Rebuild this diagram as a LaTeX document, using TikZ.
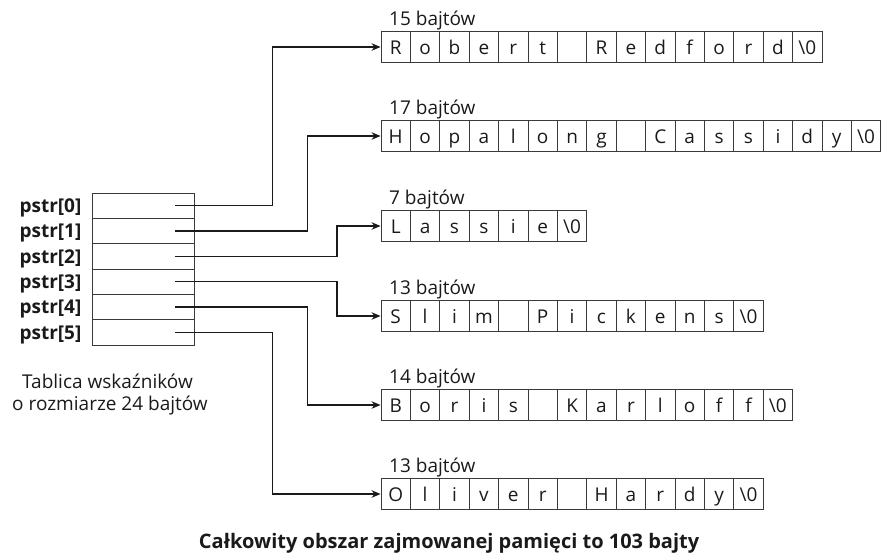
\documentclass[tikz,border=0pt]{standalone}
\usepackage{fontspec}
\setmainfont{Open Sans}
\usetikzlibrary{arrows.meta}
\definecolor{ink}{HTML}{1A1A1A}
\definecolor{edge}{HTML}{3A3A3A}
\tikzset{
  cell/.style={draw=edge, line width=0.9pt, minimum width=29.4pt, minimum height=31.7pt,
    inner sep=0pt, text height=16pt, text depth=2pt, font=\fontsize{19}{22}\selectfont, text=ink},
  ptrcell/.style={draw=edge, line width=0.9pt, minimum width=102pt, minimum height=25.33pt, inner sep=0pt},
  lbl/.style={inner sep=0pt, font=\fontsize{19}{22}\selectfont, text=ink},
  plbl/.style={inner sep=0pt, font=\fontsize{19}{22}\selectfont\bfseries, text=ink, anchor=base east},
  conn/.style={draw=ink, line width=1.3pt, -{Stealth[length=9pt,width=7.5pt]}},
}
\newcommand\strrow[4]{%
  \node[lbl, anchor=base west] (#1-lbl) at (389,#2-22) {#3};
  \foreach \c [count=\i] in {#4} {
    \node[cell] (#1-\i) at ({381+29.4*(\i-0.5)},#2) {\c};
  }
}
\begin{document}
\begin{tikzpicture}[x=1pt,y=-1pt]
\useasboundingbox (0,0) rectangle (882,554);
% pointer table
\foreach \k in {0,...,5} {
  \node[ptrcell] (p\k) at (143,{193+25.33*(\k+0.5)}) {};
  \coordinate (q\k) at ([xshift=32pt]p\k.center);
  \node[plbl] (l\k) at ([xshift=-10pt,yshift=-7pt]p\k.west) {pstr[\k]};
}
% strings
\strrow{s0}{47}{15 bajtów}{R,o,b,e,r,t,{},R,e,d,f,o,r,d,\textbackslash0}
\strrow{s1}{136}{17 bajtów}{H,o,p,a,l,o,n,g,{},C,a,s,s,i,d,y,\textbackslash0}
\strrow{s2}{226}{7 bajtów}{L,a,s,s,i,e,\textbackslash0}
\strrow{s3}{316}{13 bajtów}{S,l,i,m,{},P,i,c,k,e,n,s,\textbackslash0}
\strrow{s4}{405}{14 bajtów}{B,o,r,i,s,{},K,a,r,l,o,f,f,\textbackslash0}
\strrow{s5}{494}{13 bajtów}{O,l,i,v,e,r,{},H,a,r,d,y,\textbackslash0}
% turning columns
\coordinate (xa) at (272.5,0);
\coordinate (xb) at (307.5,0);
\coordinate (xc) at (337,0);
% connectors
\draw[conn] (q0) -- (q0 -| xa) |- (s0-1.west);
\draw[conn] (q1) -- (q1 -| xb) |- (s1-1.west);
\draw[conn] (q2) -- (q2 -| xc) |- (s2-1.west);
\draw[conn] (q3) -- (q3 -| xc) |- (s3-1.west);
\draw[conn] (q4) -- (q4 -| xb) |- (s4-1.west);
\draw[conn] (q5) -- (q5 -| xa) |- (s5-1.west);
% captions
\node[lbl, anchor=base] (cap1) at (107.5,388) {Tablica wskaźników};
\node[lbl, anchor=base] (cap2) at (110,410) {o rozmiarze 24 bajtów};
\node[lbl, anchor=base, font=\fontsize{20}{24}\selectfont\bfseries] (total) at (449,548) {Całkowity obszar zajmowanej pamięci to 103 bajty};
\end{tikzpicture}
\end{document}
